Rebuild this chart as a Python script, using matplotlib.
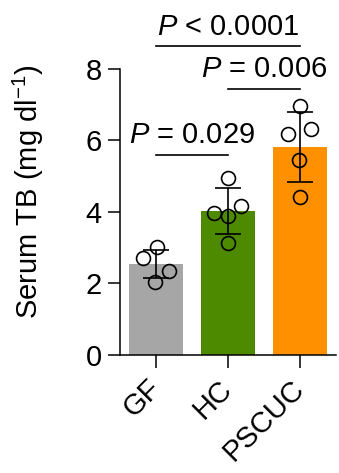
import matplotlib
matplotlib.use("Agg")
import matplotlib.pyplot as plt
import numpy as np

plt.rcParams['font.family'] = ['Liberation Sans', 'DejaVu Sans']
plt.rcParams['mathtext.fontset'] = 'custom'
plt.rcParams['mathtext.rm'] = 'Liberation Sans'
plt.rcParams['mathtext.it'] = 'Liberation Sans:italic'

categories = ["GF", "HC", "PSCUC"]
means = [2.55, 4.02, 5.82]
sds = [0.39, 0.65, 0.97]
gf_points = [3.03, 2.72, 2.36, 2.05]
hc_points = [4.94, 3.96, 4.18, 3.88, 3.12]
pscuc_points = [6.97, 6.18, 6.32, 5.45, 4.41]
gf_jitter = [0.02, -0.18, 0.18, -0.02]
hc_jitter = [0.0, -0.2, 0.18, 0.0, 0.0]
pscuc_jitter = [0.0, -0.17, 0.15, -0.01, 0.0]
colors = ["#A6A6A6", "#4E8A00", "#FF9000"]
comparisons = [(0, 1, "$P$ = 0.029", 5.6), (1, 2, "$P$ = 0.006", 7.45), (0, 2, "$P$ < 0.0001", 8.63)]

fig = plt.figure(figsize=(3.39, 4.73), dpi=100)
ax = fig.add_axes([0.354, 0.2495, 0.637, 0.6047])
x = np.arange(len(categories))
ax.bar(x, means, width=0.74, color=colors, zorder=1)
ax.errorbar(x, means, yerr=sds, fmt='none', ecolor='black', elinewidth=1.2,
            capsize=9.5, capthick=1.2, zorder=3)
for i, (pts, jit) in enumerate([(gf_points, gf_jitter), (hc_points, hc_jitter),
                                 (pscuc_points, pscuc_jitter)]):
    ax.plot(i + np.array(jit), pts, 'o', markersize=10, markerfacecolor='none',
            markeredgecolor='black', markeredgewidth=1.2, zorder=4, clip_on=False)

ax.set_xlim(-0.5, 2.5)
ax.set_ylim(0, 8)
ax.set_yticks([0, 2, 4, 6, 8])
ax.set_xticks(x)
ax.set_xticklabels(categories, rotation=45, ha='right', va='center', rotation_mode='anchor')
for s in ['top', 'right']:
    ax.spines[s].set_visible(False)
for s in ['left', 'bottom']:
    ax.spines[s].set_linewidth(1.1)
ax.tick_params(axis='both', labelsize=21, width=1.1, length=9)
ax.tick_params(axis='x', pad=12)
ax.tick_params(axis='y', pad=4)
ax.set_ylabel("Serum TB (mg dl$^{-1}$)", fontsize=21)
ax.yaxis.set_label_coords(-0.345, 0.57)

for a, b, txt, y in comparisons:
    ax.plot([a, b], [y, y], color='black', lw=1.2, clip_on=False)
    ax.text((a + b) / 2, y + 0.15, txt, ha='center', va='bottom', fontsize=21, clip_on=False)

fig.savefig("out.png", dpi=100)
